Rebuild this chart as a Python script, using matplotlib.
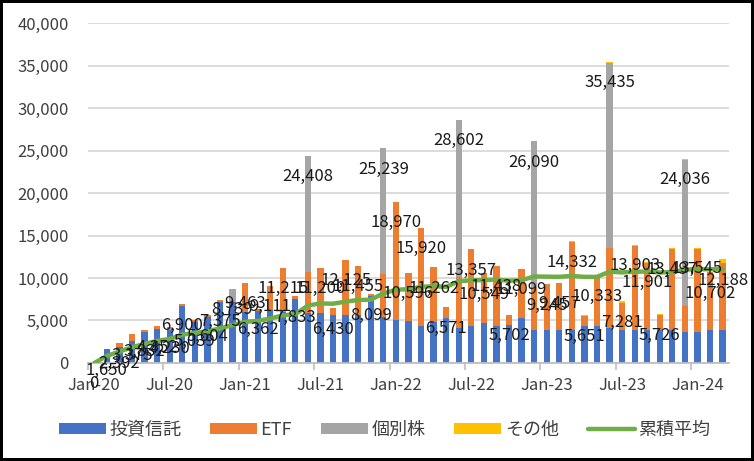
import matplotlib
matplotlib.use('Agg')
import matplotlib.pyplot as plt
import numpy as np
import pandas as pd

plt.rcParams['font.family'] = ['Noto Sans CJK JP', 'DejaVu Sans']

months = pd.date_range('2020-01-01', periods=51, freq='MS').strftime('%b-%y').tolist()

fund = [0, 1650, 1840, 2600, 3650, 3960, 3900, 6700, 4850, 5400, 7200, 7200, 6000,
        6100, 6200, 6000, 7500, 5900, 5900, 5700, 5700, 5600, 7900, 5400, 5000,
        4900, 4300, 4800, 5300, 4100, 4400, 4700, 4300, 4500, 5300, 3900, 3900,
        3900, 3900, 4300, 4300, 4100, 3900, 3900, 3900, 3900, 3900, 3700, 3700,
        3900, 3900]
etf = [0, 0, 552, 775, 182, 392, 330, 200, 189, 204, 175, 0, 3463,
       262, 2911, 5215, 333, 4800, 5300, 730, 6425, 5855, 199, 5100, 13970,
       5696, 11620, 6462, 1271, 6000, 8957, 5849, 7138, 1202, 5799, 5000, 5345,
       5557, 10332, 1251, 6033, 9400, 3181, 9903, 7901, 1726, 9497, 3000, 9745,
       6802, 7888]
stock = [0, 0, 0, 0, 0, 0, 0, 0, 0, 0, 0, 1539, 0,
         0, 0, 0, 0, 13708, 0, 0, 0, 0, 0, 14739, 0,
         0, 0, 0, 0, 18502, 0, 0, 0, 0, 0, 17190, 0,
         0, 0, 0, 0, 21835, 0, 0, 0, 0, 0, 17236, 0,
         0, 0]
other = [0, 0, 0, 0, 0, 0, 0, 0, 0, 0, 0, 0, 0,
         0, 0, 0, 0, 0, 0, 0, 0, 0, 0, 0, 0,
         0, 0, 0, 0, 0, 0, 0, 0, 0, 0, 0, 0,
         0, 100, 100, 0, 100, 200, 100, 100, 100, 100, 100, 100,
         0, 400]
cum_avg = [0, 825, 1347, 1854, 2250, 2600, 2833, 3341, 3530, 3737, 4068, 4457, 4842,
           4951, 5228, 5602, 5734, 6771, 7004, 6976, 7220, 7413, 7443, 8185, 8616,
           8692, 8960, 9042, 8957, 9612, 9732, 9758, 9809, 9688, 9728, 10183, 10158,
           10139, 10247, 10132, 10137, 10739, 10659, 10732, 10758, 10649, 10703, 10987, 11039,
           11033, 11055]

x = np.arange(len(months))
fund_a = np.array(fund)
etf_a = np.array(etf)
stock_a = np.array(stock)
other_a = np.array(other)
total = fund_a + etf_a + stock_a + other_a

fig = plt.figure(figsize=(7.54, 4.61), dpi=100)
fig.patch.set_edgecolor('black')
fig.patch.set_linewidth(3)
ax = fig.add_axes([0.1167, 0.2126, 0.85, 0.7374])

w = 0.5
b1 = ax.bar(x, fund_a, w, color='#4472C4', label='投資信託', zorder=2)
b2 = ax.bar(x, etf_a, w, bottom=fund_a, color='#ED7D31', label='ETF', zorder=2)
b3 = ax.bar(x, stock_a, w, bottom=fund_a + etf_a, color='#A5A5A5', label='個別株', zorder=2)
b4 = ax.bar(x, other_a, w, bottom=fund_a + etf_a + stock_a, color='#FFC000', label='その他', zorder=2)
ln, = ax.plot(x, cum_avg, color='#70AD47', lw=3.2, solid_joinstyle='round',
              solid_capstyle='round', label='累積平均', zorder=3)

for xi, t in zip(x, total):
    ax.annotate(f'{t:,}', (xi, t), xytext=(0, -21), textcoords='offset pixels',
                ha='center', va='center', fontsize=12, color='#1a1a1a', zorder=5,
                annotation_clip=False)

ax.set_xlim(-0.5, 50.5)
ax.set_ylim(0, 40000)
ax.set_yticks(np.arange(0, 40001, 5000))
ax.yaxis.set_major_formatter(matplotlib.ticker.FuncFormatter(lambda v, p: f'{int(v):,}'))
ax.grid(axis='y', color='#d9d9d9', lw=1.3, zorder=0)
ax.set_axisbelow(True)

ax.set_xticks(x[::6])
ax.set_xticklabels(months[::6])
ax.set_xticks(np.arange(-0.5, 51, 6), minor=True)
ax.tick_params(axis='x', which='major', length=0, pad=10, labelsize=12, labelcolor='#404040')
ax.tick_params(axis='x', which='minor', length=5, color='#bfbfbf', width=1.2)
ax.tick_params(axis='y', length=0, pad=14, labelsize=12, labelcolor='#404040')

for s in ['left', 'right', 'top']:
    ax.spines[s].set_visible(False)
ax.spines['bottom'].set_color('#bfbfbf')
ax.spines['bottom'].set_linewidth(1.3)

ax.legend([b1, b2, b3, b4, ln], ['投資信託', 'ETF', '個別株', 'その他', '累積平均'],
          loc='center', bbox_to_anchor=(0.51, 0.067), bbox_transform=fig.transFigure,
          ncol=5, frameon=False, fontsize=13, handlelength=2.6, handleheight=0.55,
          columnspacing=1.6, handletextpad=0.2, labelcolor='#404040')

fig.savefig('out.png', dpi=100, edgecolor=fig.get_edgecolor())
